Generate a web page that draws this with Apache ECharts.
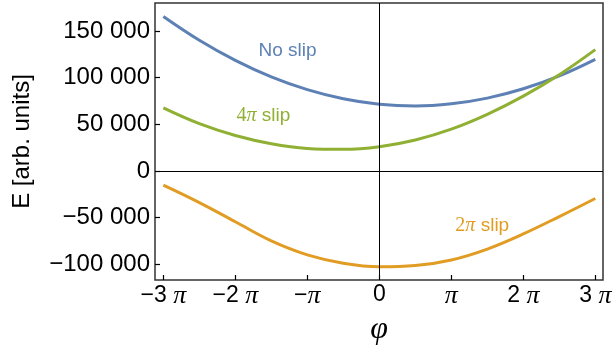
<!DOCTYPE html>
<html>
<head>
<meta charset="utf-8">
<title>Energy vs phase</title>
<script src="https://cdn.jsdelivr.net/npm/echarts@6/dist/echarts.min.js"></script>
<style>
  html, body { margin: 0; padding: 0; background: #fff; }
  #chart { width: 616px; height: 347px; }
</style>
</head>
<body>
<div id="chart"></div>
<script>
// Phase in units of pi
const phiOverPi = [-3, -2.5, -2, -1.5, -1, -0.5, 0, 0.5, 1, 1.5, 2, 2.5, 3];

// Energy curves [arb. units]
const noSlip  = [165600, 140100, 118500, 100800, 87100, 77300, 71400, 69500, 71900, 78000, 88000, 101800, 119600];
const slip2pi = [-15300, -34000, -54500, -75000, -90000, -99000, -102800, -101500, -95500, -83800, -67600, -49000, -29600];
const slip4pi = [67500, 50600, 37900, 29100, 24100, 23100, 25900, 33100, 44700, 60600, 80100, 103100, 130000];

// Axis ticks
const xTicks = [-3, -2, -1, 0, 1, 2, 3];
const yTicks = [-100000, -50000, 0, 50000, 100000, 150000];

const BLUE = '#5E81B5', ORANGE = '#E19C24', GREEN = '#8FB032';

function pairs(vals) { return phiOverPi.map((p, i) => [p, vals[i]]); }

function fmtY(v) {
  const s = Math.abs(v).toString();
  let out = s;
  if (s.length > 3) out = s.slice(0, s.length - 3) + ' ' + s.slice(s.length - 3);
  return (v < 0 ? '\u2212' : '') + out;
}
function fmtX(v) {
  if (v === 0) return '{n|0}';
  const sign = v < 0 ? '\u2212' : '';
  const k = Math.abs(v);
  return '{n|' + sign + (k === 1 ? '' : k + ' ') + '}{p|\u03c0}';
}

function curveLabel(coord, text, color) {
  return {
    coord: coord, symbol: 'circle', symbolSize: 1,
    itemStyle: { color: 'rgba(0,0,0,0)' },
    label: {
      show: true, position: 'inside', formatter: text, color: color,
      rich: {
        d: { fontFamily: 'Liberation Serif', fontSize: 20, color: color },
        p: { fontFamily: 'Liberation Serif', fontStyle: 'italic', fontSize: 20, color: color },
        t: { fontFamily: 'Liberation Sans', fontSize: 19, color: color }
      }
    }
  };
}

const chart = echarts.init(document.getElementById('chart'), null, { renderer: 'canvas' });

chart.setOption({
  animation: false,
  backgroundColor: '#fff',
  grid: {
    left: 155, right: 13, top: 3, bottom: 67,
    outerBoundsMode: 'none', containLabel: false,
    show: true, borderColor: '#333', borderWidth: 1.5, backgroundColor: 'transparent'
  },
  xAxis: {
    type: 'value', min: -3.116, max: 3.107,
    name: '\u03c6', nameLocation: 'middle', nameGap: 29,
    nameTextStyle: { fontFamily: 'Liberation Serif', fontStyle: 'italic', fontSize: 32, color: '#000' },
    axisLine: { show: false, onZero: false },
    splitLine: { show: false },
    axisTick: { show: true, inside: true, length: 5, customValues: xTicks, lineStyle: { color: '#000', width: 1.2 } },
    axisLabel: {
      customValues: xTicks, margin: 3, formatter: fmtX,
      rich: {
        n: { fontFamily: 'Liberation Sans', fontSize: 23, color: '#000' },
        p: { fontFamily: 'Liberation Serif', fontStyle: 'italic', fontSize: 26, color: '#000' }
      }
    }
  },
  yAxis: {
    type: 'value', min: -117000, max: 180000,
    name: 'E [arb. units]', nameLocation: 'middle', nameRotate: 90, nameGap: 121,
    nameTextStyle: { fontFamily: 'Liberation Sans', fontSize: 24, color: '#000' },
    axisLine: { show: false, onZero: false },
    splitLine: { show: false },
    axisTick: { show: true, inside: true, length: 5, customValues: yTicks, lineStyle: { color: '#000', width: 1.2 } },
    axisLabel: {
      customValues: yTicks, margin: 5, formatter: fmtY,
      fontFamily: 'Liberation Sans', fontSize: 24, color: '#000'
    }
  },
  series: [
    {
      // coordinate axes through the origin
      type: 'line', data: [], z: 1, silent: true,
      markLine: {
        silent: true, symbol: 'none', label: { show: false },
        lineStyle: { color: '#000', width: 1, type: 'solid' },
        data: [{ xAxis: 0 }, { yAxis: 0 }]
      }
    },
    {
      name: 'No slip', type: 'line', data: pairs(noSlip), z: 3,
      smooth: 0.4, showSymbol: false, lineStyle: { color: BLUE, width: 3 },
      markPoint: { silent: true, data: [curveLabel([-1.275, 128600], '{t|No slip}', BLUE)] }
    },
    {
      name: '2\u03c0 slip', type: 'line', data: pairs(slip2pi), z: 3,
      smooth: 0.4, showSymbol: false, lineStyle: { color: ORANGE, width: 3 },
      markPoint: { silent: true, data: [curveLabel([1.43, -59100], '{d|2}{p|\u03c0}{t| slip}', ORANGE)] }
    },
    {
      name: '4\u03c0 slip', type: 'line', data: pairs(slip4pi), z: 4,
      smooth: 0.4, showSymbol: false, lineStyle: { color: GREEN, width: 3 },
      markPoint: { silent: true, data: [curveLabel([-1.61, 58900], '{d|4}{p|\u03c0}{t| slip}', GREEN)] }
    }
  ]
});
</script>
</body>
</html>
